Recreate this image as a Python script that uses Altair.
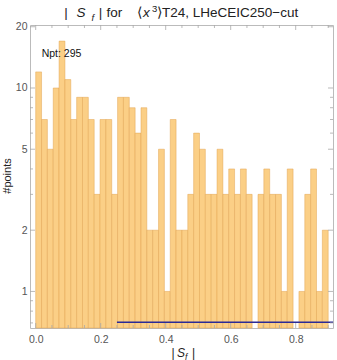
import altair as alt
import pandas as pd

# ---------------- data ----------------
bin_width = 0.018
counts = [12, 7, 5, 10, 17, 11, 7, 9, 9, 7,
          3, 7, 7, 3, 9, 9, 8, 6, 8, 2,
          2, 5, 1, 7, 2, 2, 3, 6, 5, 3,
          3, 5, 3, 4, 3, 4, 3, 0, 3, 4,
          3, 3, 1, 4, 0, 1, 3, 4, 1, 2]
npt_label = "Npt: 295"
line_start = 0.25
line_end = 0.915
line_level = 0.705

x_domain = [-0.0175, 0.9148]
y_domain = [0.661, 20.4]
x_major = [0.0, 0.2, 0.4, 0.6, 0.8]
x_minor = [0.05, 0.1, 0.15, 0.25, 0.3, 0.35, 0.45, 0.5, 0.55, 0.65, 0.7, 0.75, 0.85, 0.9]
y_major = [1, 2, 5, 10, 20]
y_minor = [0.7, 0.8, 0.9, 3, 4, 6, 7, 8, 9, 30]

W, H = 303, 303

bars = pd.DataFrame({
    "lo": [i * bin_width for i in range(len(counts))],
    "hi": [(i + 1) * bin_width for i in range(len(counts))],
    "n": counts,
})
bars = bars[bars["n"] > 0]

xs = alt.Scale(domain=x_domain, nice=False, zero=False)
ys = alt.Scale(type="log", domain=y_domain, nice=False)

bar_layer = alt.Chart(bars).mark_rect(
    color="#FBCF86", stroke="#E2A24E", strokeWidth=0.6, strokeOpacity=0.8
).encode(
    x=alt.X("lo:Q", scale=xs, axis=alt.Axis(values=x_major, format=".1f", title=None,
                                             ticks=False, domain=False, grid=False,
                                             labelFontSize=10.5, labelColor="#555",
                                             labelFont="Liberation Sans", labelPadding=6)),
    x2="hi:Q",
    y=alt.Y("n:Q", scale=ys, axis=alt.Axis(values=y_major, format="d", title=None,
                                            ticks=False, domain=False, grid=False,
                                            labelFontSize=10.5, labelColor="#555",
                                            labelFont="Liberation Sans", labelPadding=3)),
    y2=alt.value(H),
)

line_layer = alt.Chart(pd.DataFrame({"a": [line_start], "b": [line_end], "v": [line_level]})).mark_rule(
    color="#2B2A96", strokeWidth=1.6
).encode(x="a:Q", x2="b:Q", y="v:Q")

tick_color = "#A8A8A8"
xmaj = pd.DataFrame({"t": x_major})
xmin = pd.DataFrame({"t": x_minor})
ymaj = pd.DataFrame({"t": y_major})
ymin = pd.DataFrame({"t": y_minor})
ymin = ymin[(ymin["t"] > y_domain[0]) & (ymin["t"] < y_domain[1])]

def xticks(df, length):
    b = alt.Chart(df).mark_rule(color=tick_color, strokeWidth=0.8).encode(
        x="t:Q", y=alt.value(H), y2=alt.value(H - length))
    t = alt.Chart(df).mark_rule(color=tick_color, strokeWidth=0.8).encode(
        x="t:Q", y=alt.value(0), y2=alt.value(length))
    return [b, t]

def yticks(df, length):
    l = alt.Chart(df).mark_rule(color=tick_color, strokeWidth=0.8).encode(
        y="t:Q", x=alt.value(0), x2=alt.value(length))
    r = alt.Chart(df).mark_rule(color=tick_color, strokeWidth=0.8).encode(
        y="t:Q", x=alt.value(W), x2=alt.value(W - length))
    return [l, r]

tick_layers = xticks(xmaj, 5) + xticks(xmin, 3) + yticks(ymaj, 5) + yticks(ymin, 3)

one = pd.DataFrame({"k": [0]})

def frag(text, px, py, size, style="normal", align="left", baseline="alphabetic",
         angle=0, color="#222222"):
    return alt.Chart(one).mark_text(
        text=text, fontSize=size, fontStyle=style, align=align, baseline=baseline,
        angle=angle, color=color, font="Liberation Sans"
    ).encode(x=alt.value(px), y=alt.value(py))

texts = [
    # title: | S_f | for <x^3>T24, LHeCEIC250-cut
    frag("|", 36, -7.7, 13.5, align="center"),
    frag("S", 46.5, -7.7, 13.5, style="italic"),
    frag("f", 61.5, -4.5, 9.5, style="italic"),
    frag("|", 70.5, -7.7, 13.5, align="center"),
    frag("for", 76.5, -7.7, 13.5),
    frag("\u27e8", 107, -7.7, 13.5),
    frag("x", 113, -7.7, 13.5, style="italic"),
    frag("3", 122, -13, 9.5),
    frag("\u27e9T24, LHeCEIC250\u2212cut", 127, -7.7, 13.5),
    # x-axis title | S_f |
    frag("|", 143, 332, 12, align="center"),
    frag("S", 147, 332, 12, style="italic"),
    frag("f", 155, 334.5, 8.5, style="italic"),
    frag("|", 163.5, 332, 12, align="center"),
    # y-axis title
    frag("#points", -22, 151, 11, align="center", baseline="middle", angle=270),
    # Npt annotation
    frag(npt_label, 11.7, 29, 10.5, baseline="middle", color="#111111"),
]

chart = alt.layer(bar_layer, line_layer, *tick_layers, *texts).properties(
    width=W, height=H,
    autosize=alt.AutoSizeParams(type="none"),
    padding={"left": 30, "top": 25, "right": 4, "bottom": 32},
).configure_view(stroke="#BBBBBB", strokeWidth=1)

chart.save("out.html", embed_options={"renderer": "svg", "actions": False})
